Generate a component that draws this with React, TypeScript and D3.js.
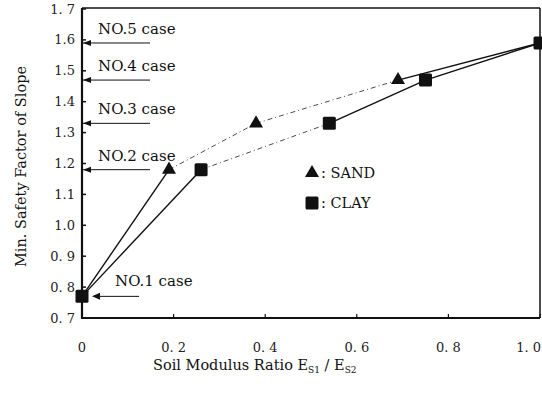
import React from "react";
import * as d3 from "d3";

// values
const sandRatio = [0, 0.19, 0.38, 0.69, 1.0];
const sandSafety = [0.77, 1.18, 1.33, 1.47, 1.59];
const clayRatio = [0, 0.26, 0.54, 0.75, 1.0];
const claySafety = [0.77, 1.18, 1.33, 1.47, 1.59];
// dashed segments (scan shows faint lines there)
const sandDashed = [false, true, true, false];
const clayDashed = [false, true, false, false];

const caseNames = ["NO.1 case", "NO.2 case", "NO.3 case", "NO.4 case", "NO.5 case"];
const caseValues = [0.77, 1.18, 1.33, 1.47, 1.59];

const yTicks = [0.7, 0.8, 0.9, 1.0, 1.1, 1.2, 1.3, 1.4, 1.5, 1.6, 1.7];
const yTickLabels = ["0. 7", "0. 8", "0. 9", "1.0", "1.1", "1.2", "1.3", "1.4", "1.5", "1.6", "1. 7"];
const xTicks = [0, 0.2, 0.4, 0.6, 0.8, 1.0];
const xTickLabels = ["0", "0. 2", "0. 4", "0. 6", "0. 8", "1. 0"];

const W = 542;
const H = 409;
const left = 82, right = 540, top = 9, bottom = 318;
const font = "'DejaVu Serif', 'Liberation Serif', serif";

export default function App() {
  const x = d3.scaleLinear().domain([0, 1]).range([left, right]);
  const y = d3.scaleLinear().domain([0.7, 1.7]).range([bottom, top]);

  const segs = (xs: number[], ys: number[], dashed: boolean[], key: string) =>
    xs.slice(1).map((_, i) => (
      <line key={key + i}
        x1={x(xs[i])} y1={y(ys[i])} x2={x(xs[i + 1])} y2={y(ys[i + 1])}
        stroke="#111" strokeWidth={dashed[i] ? 1 : 1.4}
        strokeDasharray={dashed[i] ? "5,3,1,3" : undefined}
        opacity={dashed[i] ? 0.75 : 1} />
    ));

  const tri = d3.symbol().type(d3.symbolTriangle).size(85)();
  const sq = (cx: number, cy: number, k: string) =>
    <rect key={k} x={cx - 6.5} y={cy - 6.5} width={13} height={13} rx={1.5} fill="#111" />;

  return (
    <svg width={W} height={H} style={{ position: "absolute", left: 0, top: 0, background: "#fff" }}
      fontFamily={font}>
      {/* frame */}
      <line x1={left} y1={top - 1} x2={right} y2={top - 1} stroke="#111" strokeWidth={1.5} />
      <line x1={right} y1={top - 1} x2={right} y2={bottom} stroke="#111" strokeWidth={1.5} />
      <line x1={left} y1={top - 1} x2={left} y2={bottom + 1} stroke="#111" strokeWidth={2.2} />
      <line x1={left} y1={bottom} x2={right} y2={bottom} stroke="#111" strokeWidth={2.2} />

      {yTicks.map((t, i) => (
        <g key={"yt" + i}>
          <line x1={left} x2={left + 4} y1={y(t)} y2={y(t)} stroke="#111" strokeWidth={1.5} />
          <text x={left - 7} y={y(t)} dy="0.35em" textAnchor="end" fontSize={13} fill="#222">{yTickLabels[i]}</text>
        </g>
      ))}
      {xTicks.map((t, i) => (
        <g key={"xt" + i}>
          <line x1={x(t)} x2={x(t)} y1={bottom} y2={bottom - 4} stroke="#111" strokeWidth={1.2} />
          <text x={i === xTicks.length - 1 ? x(t) + 1 : x(t)} y={bottom + 29} dy="0.35em"
            textAnchor={i === xTicks.length - 1 ? "end" : "middle"} fontSize={13} fill="#222">{xTickLabels[i]}</text>
        </g>
      ))}

      {/* case markers */}
      {caseValues.map((v, i) => i === 0 ? (
        <g key="c0">
          <line x1={x(0) + 12} x2={x(0) + 57} y1={y(v)} y2={y(v)} stroke="#111" strokeWidth={1} />
          <path d={`M${x(0) + 10},${y(v)}l8,-3.5v7z`} fill="#111" />
          <text x={x(0) + 33} y={y(v) - 10} fontSize={15} fill="#111">{caseNames[i]}</text>
        </g>
      ) : (
        <g key={"c" + i}>
          <line x1={left} x2={left + 68} y1={y(v)} y2={y(v)} stroke="#111" strokeWidth={1} />
          <path d={`M${left + 1},${y(v)}l8,-3v6z`} fill="#111" />
          <text x={left + 16} y={y(v) - 9} fontSize={15} fill="#111">{caseNames[i]}</text>
        </g>
      ))}

      {segs(sandRatio, sandSafety, sandDashed, "s")}
      {segs(clayRatio, claySafety, clayDashed, "c")}

      {sandRatio.map((r, i) => i === 0 || i === 4 ? null : (
        <path key={"st" + i} d={tri} transform={`translate(${x(r)},${y(sandSafety[i])})`} fill="#111" />
      ))}
      {clayRatio.map((r, i) => sq(x(r), y(claySafety[i]), "cs" + i))}

      {/* legend */}
      <path d={tri} transform={`translate(312,${y(1.169)})`} fill="#111" />
      <text x={321} y={y(1.169)} dy="0.35em" fontSize={14.5} fill="#111">: SAND</text>
      {sq(312, y(1.072), "lg")}
      <text x={321} y={y(1.072)} dy="0.35em" fontSize={14.5} fill="#111">: CLAY</text>

      {/* axis titles */}
      <text transform={`translate(21,${(top + bottom) / 2 + 3}) rotate(-90)`} textAnchor="middle" dy="0.35em"
        fontSize={14.5} fill="#111">Min. Safety Factor of Slope</text>
      <text x={153} y={370} fontSize={14.5} fill="#111">
        Soil Modulus Ratio E<tspan fontSize={9} dy={3}>S1</tspan><tspan dy={-3}> / E</tspan><tspan fontSize={9} dy={3}>S2</tspan>
      </text>
    </svg>
  );
}
